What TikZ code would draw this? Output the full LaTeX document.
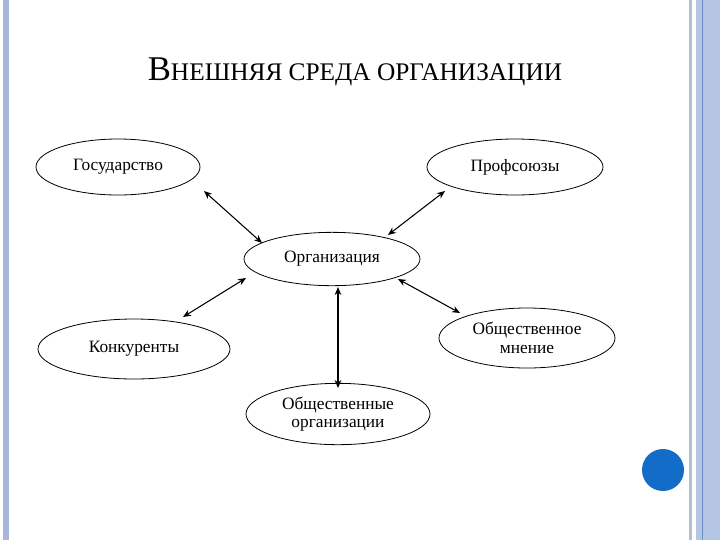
\documentclass[tikz,border=0pt]{standalone}
\usepackage{fontspec}
\setmainfont{Liberation Serif}
\usetikzlibrary{shapes.geometric,arrows.meta}
\definecolor{lstripe}{RGB}{169,182,220}
\definecolor{rgray}{RGB}{180,190,210}
\definecolor{rblue}{RGB}{180,198,228}
\definecolor{rline}{RGB}{110,140,200}
\definecolor{dot}{RGB}{18,108,200}
\begin{document}
\begin{tikzpicture}[x=0.75pt,y=-0.75pt,
  ell/.style={draw,ellipse,line width=0.6pt,inner sep=0pt,font=\fontsize{13}{14}\selectfont,align=center},
  conn/.style={{Stealth[length=6pt,width=5pt]}-{Stealth[length=6pt,width=5pt]},line width=0.8pt}]
\fill[white] (0,0) rectangle (720,540);
\useasboundingbox (0,0) rectangle (720,540);
\fill[lstripe] (3,0) rectangle (9,540);
\fill[rgray] (689,0) rectangle (692,540);
\fill[rblue] (696,0) rectangle (720,540);
\draw[rline,line width=0.6pt] (702,0) -- (702,540);
\fill[dot] (663,470) circle (21);
\node (title) at (355,72) {\fontsize{26}{28}\selectfont В\fontsize{19}{22}\selectfont НЕШНЯЯ СРЕДА ОРГАНИЗАЦИИ};
\node[ell,minimum width=123pt,minimum height=42pt] (gos) at (118,167) {Государство};
\node[ell,minimum width=132pt,minimum height=42pt] (prof) at (515,167) {Профсоюзы};
\node[ell,minimum width=132pt,minimum height=40pt] (org) at (332,259) {Организация};
\node[ell,minimum width=144pt,minimum height=45pt] (konk) at (134,349) {Конкуренты};
\node[ell,minimum width=132pt,minimum height=45pt] (mn) at (527,338) {Общественное\\мнение};
\node[ell,minimum width=138pt,minimum height=46pt] (oo) at (338,414) {Общественные\\организации};
\coordinate (a1) at (204,191); \coordinate (a2) at (262,243);
\coordinate (b1) at (445,191); \coordinate (b2) at (388,235);
\coordinate (c1) at (246,278); \coordinate (c2) at (183,317);
\coordinate (d1) at (398,279); \coordinate (d2) at (460,313);
\coordinate (e1) at (338,287); \coordinate (e2) at (338,388);
\draw[conn] (a1) -- (a2);
\draw[conn] (b1) -- (b2);
\draw[conn] (c1) -- (c2);
\draw[conn] (d1) -- (d2);
\draw[conn] (e1) -- (e2);
\end{tikzpicture}
\end{document}
